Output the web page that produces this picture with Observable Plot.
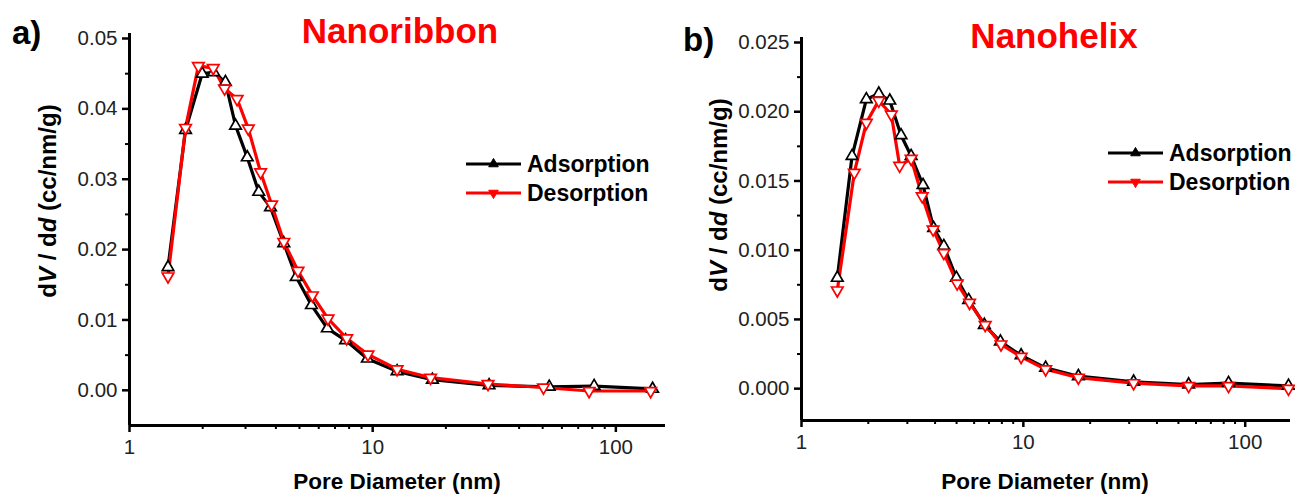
<!DOCTYPE html>
<html>
<head>
<meta charset="utf-8">
<script src="https://cdn.jsdelivr.net/npm/d3@7"></script>
<script src="https://cdn.jsdelivr.net/npm/@observablehq/plot@0.6"></script>
<style>
  html, body { margin: 0; padding: 0; background: #fff; }
  #wrap { position: relative; width: 1295px; height: 497px; overflow: hidden; background: #fff; font-family: "Liberation Sans", Arial, sans-serif; }
  #wrap > .p { position: absolute; top: 0; }
  #overlay { position: absolute; left: 0; top: 0; pointer-events: none; }
</style>
</head>
<body>
<div id="wrap">
  <div class="p" id="left" style="left:0px"></div>
  <div class="p" id="right" style="left:680px"></div>
  <svg id="overlay" width="1295" height="497"></svg>
</div>
<script>
// ---------- data ----------
const xDomain = [1, 160];
const xMajorTicks = [1, 10, 100];
const xMinorTicks = [2, 3, 4, 5, 6, 7, 8, 9, 20, 30, 40, 50, 60, 70, 80, 90];

// Panel a) Nanoribbon
const ribbonAdsX = [1.44, 1.70, 1.99, 2.22, 2.48, 2.73, 3.05, 3.40, 3.80, 4.31, 4.85, 5.60, 6.51, 7.74, 9.51, 12.6, 17.6, 30.1, 53.2, 81.4, 141.6];
const ribbonAdsY = [0.0175, 0.0370, 0.0450, 0.0452, 0.0438, 0.0376, 0.0331, 0.0282, 0.0260, 0.0209, 0.0161, 0.0121, 0.0088, 0.0071, 0.0045, 0.0027, 0.0015, 0.0007, 0.0005, 0.0006, 0.0002];
const ribbonDesX = [1.44, 1.70, 1.92, 2.21, 2.46, 2.77, 3.08, 3.46, 3.84, 4.31, 4.93, 5.65, 6.55, 7.82, 9.56, 12.6, 17.3, 29.8, 50.4, 77.6, 139];
const ribbonDesY = [0.0162, 0.0373, 0.0461, 0.0458, 0.0429, 0.0414, 0.0372, 0.0310, 0.0264, 0.0211, 0.0170, 0.0135, 0.0102, 0.0074, 0.0051, 0.0030, 0.0018, 0.0009, 0.0004, -0.0001, -0.0001];
const ribbonYDomain = [-0.005, 0.05];
const ribbonYMajor = [0, 0.01, 0.02, 0.03, 0.04, 0.05];
const ribbonYMinor = [0.005, 0.015, 0.025, 0.035, 0.045];

// Panel b) Nanohelix
const helixAdsX = [1.45, 1.69, 1.96, 2.23, 2.50, 2.81, 3.12, 3.53, 3.94, 4.38, 4.99, 5.67, 6.67, 7.88, 9.77, 12.6, 17.7, 31.4, 55.6, 84.1, 156.7];
const helixAdsY = [0.0080, 0.0168, 0.0209, 0.0213, 0.0208, 0.0183, 0.0168, 0.0147, 0.0116, 0.0103, 0.0080, 0.0064, 0.0046, 0.0034, 0.0024, 0.0015, 0.0009, 0.0005, 0.0003, 0.0004, 0.0002];
const helixDesX = [1.45, 1.73, 1.96, 2.23, 2.54, 2.77, 3.12, 3.50, 3.92, 4.38, 5.03, 5.72, 6.73, 7.93, 9.77, 12.6, 17.7, 31.4, 55.6, 84.1, 156.7];
const helixDesY = [0.0071, 0.0156, 0.0192, 0.0208, 0.0198, 0.0161, 0.0166, 0.0139, 0.0115, 0.0098, 0.0076, 0.0062, 0.0046, 0.0032, 0.0023, 0.0014, 0.0008, 0.0004, 0.0002, 0.0002, 0.0000];
const helixYDomain = [-0.0023, 0.025];
const helixYMajor = [0, 0.005, 0.010, 0.015, 0.020, 0.025];
const helixYMinor = [0.0025, 0.0075, 0.0125, 0.0175, 0.0225];

const seriesNames = ["Adsorption", "Desorption"];
const seriesColors = ["#000000", "#ff0000"];

// ---------- helpers ----------
const triangleDown = {
  draw(context, size) {
    const y = -Math.sqrt(size / (Math.sqrt(3) * 3));
    context.moveTo(0, -y * 2);
    context.lineTo(-Math.sqrt(3) * y, y);
    context.lineTo(Math.sqrt(3) * y, y);
    context.closePath();
  }
};

function panel(opts) {
  const ads = opts.adsX.map((x, i) => ({x, y: opts.adsY[i]}));
  const des = opts.desX.map((x, i) => ({x, y: opts.desY[i]}));
  return Plot.plot({
    width: opts.width,
    height: 497,
    marginLeft: opts.marginLeft,
    marginRight: opts.marginRight,
    marginTop: opts.marginTop,
    marginBottom: opts.marginBottom,
    style: {fontFamily: "'Liberation Sans', Arial, sans-serif", fontSize: "20.5px", color: "#222", background: "transparent", overflow: "visible"},
    x: {type: "log", domain: xDomain, axis: null},
    y: {domain: opts.yDomain, axis: null},
    marks: [
      Plot.axisY({ticks: opts.yMajor, tickFormat: opts.yFmt, tickSize: 7, tickPadding: 5, strokeWidth: 2.5, stroke: "#000", label: null}),
      Plot.axisY({ticks: opts.yMinor, tickFormat: () => "", tickSize: 4, strokeWidth: 2, stroke: "#000", label: null}),
      Plot.axisX({ticks: xMajorTicks, tickFormat: d => String(d), tickSize: 7, tickPadding: 7, strokeWidth: 2.5, stroke: "#000", label: null}),
      Plot.axisX({ticks: xMinorTicks, tickFormat: () => "", tickSize: 4, strokeWidth: 2, stroke: "#000", label: null}),
      Plot.ruleX([xDomain[0]], {stroke: "#000", strokeWidth: 3, insetTop: -5}),
      Plot.ruleY([opts.yDomain[0]], {stroke: "#000", strokeWidth: 3}),
      Plot.line(ads, {x: "x", y: "y", stroke: seriesColors[0], strokeWidth: 3.2}),
      Plot.line(des, {x: "x", y: "y", stroke: seriesColors[1], strokeWidth: 3.2}),
      Plot.dot(ads, {x: "x", y: "y", symbol: "triangle", r: 4.3, stroke: seriesColors[0], fill: "white", strokeWidth: 1.7}),
      Plot.dot(des, {x: "x", y: "y", symbol: triangleDown, r: 4.3, stroke: seriesColors[1], fill: "white", strokeWidth: 1.7})
    ]
  });
}

document.getElementById("left").append(panel({
  adsX: ribbonAdsX, adsY: ribbonAdsY, desX: ribbonDesX, desY: ribbonDesY,
  yDomain: ribbonYDomain, yMajor: ribbonYMajor, yMinor: ribbonYMinor, yFmt: d3.format(".2f"),
  width: 680, marginLeft: 129, marginRight: 15, marginTop: 38, marginBottom: 72
}));

document.getElementById("right").append(panel({
  adsX: helixAdsX, adsY: helixAdsY, desX: helixDesX, desY: helixDesY,
  yDomain: helixYDomain, yMajor: helixYMajor, yMinor: helixYMinor, yFmt: d3.format(".3f"),
  width: 615, marginLeft: 121, marginRight: 5, marginTop: 42, marginBottom: 77
}));

// ---------- overlay texts & legends ----------
const ov = d3.select("#overlay").style("font-family", "'Liberation Sans', Arial, sans-serif");

function txt(x, y, s, o = {}) {
  return ov.append("text").attr("x", x).attr("y", y)
    .attr("font-size", o.size || 20).attr("font-weight", o.weight || "bold")
    .attr("fill", o.fill || "#000").attr("text-anchor", o.anchor || "start").text(s);
}

// panel letters
txt(12, 44, "a)", {size: 33});
txt(683, 51, "b)", {size: 33});

// titles
txt(400, 43, "Nanoribbon", {size: 35, fill: "#ff0000", anchor: "middle"});
txt(1054, 48, "Nanohelix", {size: 35, fill: "#ff0000", anchor: "middle"});

// x-axis labels
txt(397, 489, "Pore Diameter (nm)", {size: 22.5, anchor: "middle"});
txt(1045, 489, "Pore Diameter (nm)", {size: 22.5, anchor: "middle"});

// y-axis labels (with italic V and d)
function yLabel(x, y) {
  const t = ov.append("text").attr("transform", `translate(${x},${y}) rotate(-90)`)
    .attr("text-anchor", "middle").attr("font-size", 24).attr("font-weight", "bold").attr("fill", "#000");
  t.append("tspan").text("d");
  t.append("tspan").attr("font-style", "italic").text("V");
  t.append("tspan").text(" / d");
  t.append("tspan").attr("font-style", "italic").text("d");
  t.append("tspan").text(" (cc/nm/g)");
}
yLabel(56, 201);
yLabel(727, 195);

// legends
function legend(x0, x1, y0, gap) {
  seriesNames.forEach((name, i) => {
    const y = y0 + i * gap;
    ov.append("line").attr("x1", x0).attr("x2", x1).attr("y1", y).attr("y2", y)
      .attr("stroke", seriesColors[i]).attr("stroke-width", 3);
    const sym = i === 0 ? d3.symbol(d3.symbolTriangle, 40) : d3.symbol(triangleDown, 40);
    ov.append("path").attr("d", sym()).attr("transform", `translate(${(x0 + x1) / 2},${y})`)
      .attr("fill", seriesColors[i]).attr("stroke", seriesColors[i]).attr("stroke-width", 1);
    txt(x1 + 6, y + 8, name, {size: 23});
  });
}
legend(466, 521, 164, 29);
legend(1108, 1163, 153, 29);
</script>
</body>
</html>
